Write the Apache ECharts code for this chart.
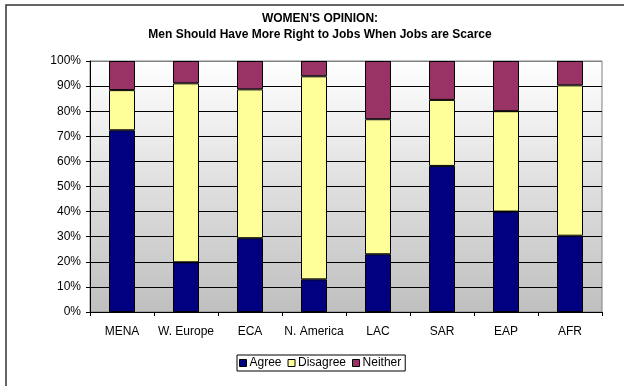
<!DOCTYPE html>
<html>
<head>
<meta charset="utf-8">
<script src="https://cdn.jsdelivr.net/npm/echarts@6/dist/echarts.min.js"></script>
<style>
html,body{margin:0;padding:0;background:#fff;}
#chart{width:624px;height:386px;}
</style>
</head>
<body>
<div id="chart"></div>
<script>
var categories = ['MENA', 'W. Europe', 'ECA', 'N. America', 'LAC', 'SAR', 'EAP', 'AFR'];
var agree    = [72.4, 19.8, 29.4, 13.0, 23.0, 58.2, 40.0, 30.4];
var disagree = [16.0, 71.3, 59.3, 80.9, 53.8, 26.3, 40.0, 59.9];
var neither  = [11.6,  8.9, 11.3,  6.1, 23.2, 15.5, 20.0,  9.7];
var seriesNames = ['Agree', 'Disagree', 'Neither'];
var yTicks = [0, 10, 20, 30, 40, 50, 60, 70, 80, 90, 100];

var FONT = 'Liberation Sans, Arial, sans-serif';
var colors = ['#000080', '#FFFF99', '#993366'];
var chart = echarts.init(document.getElementById('chart'), null, {renderer: 'canvas'});

function mk(name, data, color) {
  return {
    name: name,
    type: 'bar',
    stack: 'all',
    data: data,
    barWidth: 26,
    itemStyle: {color: color, borderColor: '#000', borderWidth: 1},
    emphasis: {disabled: true}
  };
}

var gridColors = yTicks.map(function (v, i) { return i === yTicks.length - 1 ? '#808080' : '#000'; });

chart.setOption({
  animation: false,
  backgroundColor: '#ffffff',
  textStyle: {fontFamily: FONT},
  title: {
    text: "WOMEN'S OPINION:\nMen Should Have More Right to Jobs When Jobs are Scarce",
    left: 320,
    top: 11,
    padding: 0,
    textAlign: 'center',
    textStyle: {fontFamily: FONT, fontSize: 12, fontWeight: 'bold', color: '#000', lineHeight: 16}
  },
  grid: {
    left: 90, right: 22, top: 61, bottom: 74,
    show: true,
    borderColor: '#808080',
    borderWidth: 1,
    backgroundColor: {
      type: 'linear', x: 0, y: 0, x2: 0, y2: 1,
      colorStops: [{offset: 0, color: '#ffffff'}, {offset: 1, color: '#bfbfbf'}]
    }
  },
  legend: {
    data: seriesNames,
    left: 237,
    top: 355,
    orient: 'horizontal',
    itemWidth: 7,
    itemHeight: 7,
    itemGap: 6,
    icon: 'rect',
    borderColor: '#000',
    borderWidth: 1,
    padding: [2, 4, 2, 2],
    itemStyle: {borderColor: '#000', borderWidth: 1},
    textStyle: {fontFamily: FONT, fontSize: 12, color: '#000', padding: [0, 0, 0, -2]},
    selectedMode: false
  },
  xAxis: {
    type: 'category',
    data: categories,
    axisLine: {show: true, lineStyle: {color: '#000', width: 1}},
    axisTick: {show: true, length: 4, alignWithLabel: false, interval: 0, lineStyle: {color: '#000'}},
    axisLabel: {fontFamily: FONT, fontSize: 12, color: '#000', margin: 14, interval: 0, hideOverlap: false},
    splitLine: {show: false}
  },
  yAxis: {
    type: 'value',
    min: yTicks[0],
    max: yTicks[yTicks.length - 1],
    interval: yTicks[1] - yTicks[0],
    axisLine: {show: true, lineStyle: {color: '#000', width: 1}},
    axisTick: {show: true, length: 4, lineStyle: {color: '#000'}},
    axisLabel: {fontFamily: FONT, fontSize: 12, color: '#000', margin: 9, formatter: '{value}%'},
    splitLine: {show: true, lineStyle: {color: gridColors, width: 1}}
  },
  graphic: [{
    type: 'rect',
    shape: {x: 6, y: 5, width: 700, height: 500},
    style: {fill: 'none', stroke: '#333', lineWidth: 1.5},
    silent: true,
    z: 100
  }],
  series: [
    mk(seriesNames[0], agree, colors[0]),
    mk(seriesNames[1], disagree, colors[1]),
    mk(seriesNames[2], neither, colors[2])
  ]
});
</script>
</body>
</html>
